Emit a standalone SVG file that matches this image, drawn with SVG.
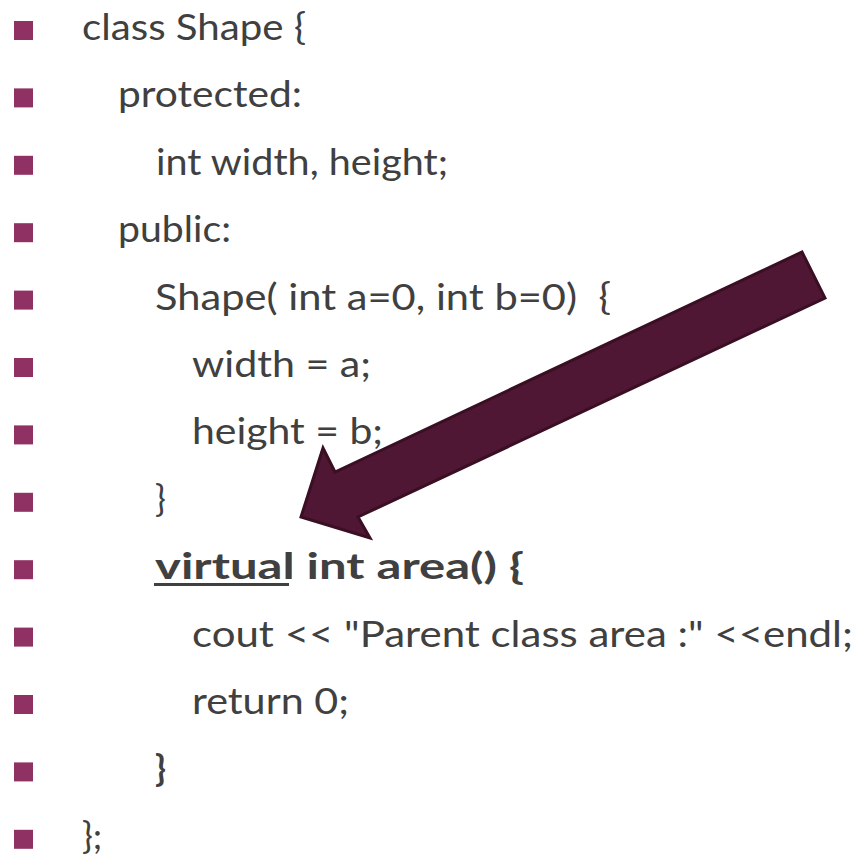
<svg xmlns="http://www.w3.org/2000/svg" width="853" height="856" viewBox="0 0 853 856">
  <style>
    .b { fill: #8F3162; }
    .t { font-family: Lato, "Open Sans", "Liberation Sans", sans-serif; font-size: 36px; fill: #404040; }
    .bold { font-weight: bold; }
    .arrow { fill: #4F1733; stroke: #3A0F24; stroke-width: 3; stroke-linejoin: miter; }
  </style>
  <rect width="853" height="856" fill="#ffffff"/>
  <g id="line1"><rect class="b" x="14" y="21" width="19" height="19"/><text class="t" x="82" y="40" textLength="224" lengthAdjust="spacingAndGlyphs">class Shape {</text></g>
  <g id="line2"><rect class="b" x="14" y="88.4" width="19" height="19"/><text class="t" x="118" y="107.4" textLength="184" lengthAdjust="spacingAndGlyphs">protected:</text></g>
  <g id="line3"><rect class="b" x="14" y="155.8" width="19" height="19"/><text class="t" x="156" y="174.8" textLength="292" lengthAdjust="spacingAndGlyphs">int width, height;</text></g>
  <g id="line4"><rect class="b" x="14" y="223.2" width="19" height="19"/><text class="t" x="118" y="242.2" textLength="113" lengthAdjust="spacingAndGlyphs">public:</text></g>
  <g id="line5"><rect class="b" x="14" y="290.6" width="19" height="19"/><text class="t" x="155" y="309.6" xml:space="preserve" textLength="456" lengthAdjust="spacingAndGlyphs">Shape( int a=0, int b=0)  {</text></g>
  <g id="line6"><rect class="b" x="14" y="358" width="19" height="19"/><text class="t" x="192" y="377" textLength="179" lengthAdjust="spacingAndGlyphs">width = a;</text></g>
  <g id="line7"><rect class="b" x="14" y="425.4" width="19" height="19"/><text class="t" x="192" y="444.4" textLength="191" lengthAdjust="spacingAndGlyphs">height = b;</text></g>
  <g id="line8"><rect class="b" x="14" y="492.8" width="19" height="19"/><text class="t" x="155" y="511.8">}</text></g>
  <g id="line9"><rect class="b" x="14" y="560.2" width="19" height="19"/><text class="t bold" x="155" y="579.2" textLength="369" lengthAdjust="spacingAndGlyphs">virtual int area() {</text><rect x="154" y="583" width="135" height="3" fill="#404040"/></g>
  <g id="line10"><rect class="b" x="14" y="627.6" width="19" height="19"/><text class="t" x="192" y="646.6" textLength="661" lengthAdjust="spacingAndGlyphs">cout &lt;&lt; "Parent class area :" &lt;&lt;endl;</text></g>
  <g id="line11"><rect class="b" x="14" y="695" width="19" height="19"/><text class="t" x="192" y="714" textLength="157" lengthAdjust="spacingAndGlyphs">return 0;</text></g>
  <g id="line12"><rect class="b" x="14" y="762.4" width="19" height="19"/><text class="t bold" x="155" y="781.4">}</text></g>
  <g id="line13"><rect class="b" x="14" y="829.8" width="19" height="19"/><text class="t" x="82" y="848.8">};</text></g>
  <g id="connectors">
    <g id="arrow">
      <polygon class="arrow" points="301,517 323,448 335,472 802,252 825,298 358,517 370,538"/>
    </g>
  </g>
</svg>
